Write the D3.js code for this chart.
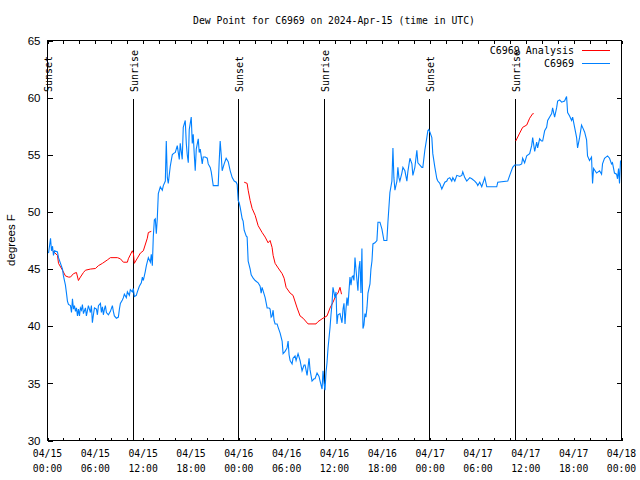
<!DOCTYPE html>
<html><head><meta charset="utf-8">
<script src="https://cdn.jsdelivr.net/npm/d3@7"></script>
<style>body{margin:0;background:#fff}svg{display:block}</style>
</head><body>
<svg id="c" width="640" height="480"></svg>
<script>
// ---------- data ----------
const title = "Dew Point for C6969 on 2024-Apr-15 (time in UTC)";
const yLabel = "degrees F";
const yTicks = [30, 35, 40, 45, 50, 55, 60, 65];
const xLabelHours = [0, 6, 12, 18, 24, 30, 36, 42, 48, 54, 60, 66, 72];
const xLabelDates = ["04/15","04/15","04/15","04/15","04/16","04/16","04/16","04/16","04/17","04/17","04/17","04/17","04/18"];
const xLabelTimes = ["00:00","06:00","12:00","18:00","00:00","06:00","12:00","18:00","00:00","06:00","12:00","18:00","00:00"];
const xMinorHours = d3.range(0, 73, 2);
const sunHours = [0, 10.77, 23.92, 34.69, 47.96, 58.73];
const sunLabels = ["Sunset","Sunrise","Sunset","Sunrise","Sunset","Sunrise"];
const seriesNames = ["C6969 Analysis", "C6969"];

// observed (C6969), hours after 04/15 00:00 UTC
const obsHours = [0.13,0.25,0.38,0.50,0.63,0.75,0.88,1.25,1.38,1.63,1.88,2.00,2.25,2.38,2.50,2.63,2.88,3.01,3.13,3.26,3.38,3.51,3.63,3.76,3.88,4.01,4.13,4.26,4.38,4.51,4.76,4.88,5.13,5.26,5.38,5.51,5.63,5.76,5.89,6.14,6.26,6.39,6.64,6.76,6.89,7.01,7.14,7.26,7.39,7.64,7.89,8.14,8.26,8.39,8.64,8.89,9.02,9.14,9.39,9.52,9.64,9.89,10.02,10.27,10.39,10.64,10.77,10.89,11.14,11.27,11.52,11.77,11.90,12.02,12.27,12.40,12.65,12.90,13.02,13.15,13.27,13.40,13.52,13.65,13.77,13.90,14.15,14.40,14.53,14.78,14.90,15.03,15.15,15.40,15.65,15.78,16.03,16.15,16.28,16.53,16.65,16.90,17.03,17.28,17.41,17.53,17.66,17.78,18.03,18.16,18.28,18.41,18.53,18.66,18.91,19.03,19.16,19.41,19.53,19.78,20.04,20.16,20.41,20.54,20.79,21.16,21.41,21.54,21.66,21.79,21.91,22.16,22.41,22.67,22.92,23.17,23.42,23.67,23.79,23.92,24.04,24.17,24.42,24.54,24.67,24.92,25.04,25.17,25.42,25.55,25.80,26.05,26.42,26.67,26.80,26.92,27.17,27.30,27.55,27.80,27.92,28.05,28.17,28.30,28.42,28.55,28.80,28.93,29.18,29.43,29.55,29.80,30.05,30.18,30.30,30.43,30.68,30.80,31.05,31.18,31.43,31.68,31.93,32.18,32.31,32.56,32.81,32.93,33.18,33.43,33.56,33.81,34.06,34.19,34.44,34.56,34.69,34.81,34.94,35.06,35.19,35.44,35.56,35.69,35.81,36.06,36.19,36.31,36.44,36.69,36.94,37.07,37.19,37.32,37.44,37.57,37.69,37.94,38.07,38.19,38.32,38.44,38.57,38.69,38.94,39.07,39.19,39.32,39.44,39.57,39.69,39.82,39.94,40.07,40.20,40.45,40.57,40.70,40.82,41.07,41.32,41.45,41.70,41.95,42.20,42.32,42.57,42.70,42.95,43.20,43.33,43.45,43.58,43.83,43.95,44.08,44.20,44.45,44.58,44.83,45.08,45.20,45.46,45.71,45.83,46.08,46.33,46.46,46.71,46.96,47.08,47.33,47.58,47.71,47.83,47.96,48.21,48.33,48.59,48.84,48.96,49.21,49.46,49.84,50.09,50.21,50.46,50.71,50.84,51.09,51.34,51.72,51.97,52.09,52.34,52.59,52.97,53.22,53.59,53.84,53.97,54.22,54.47,54.85,55.10,56.35,56.48,57.73,57.98,58.35,58.60,59.23,59.48,59.60,59.85,60.11,60.48,60.73,60.86,61.11,61.36,61.48,61.73,61.98,62.11,62.36,62.61,62.74,62.99,63.24,63.36,63.61,63.86,63.99,64.24,64.49,64.86,65.11,65.24,65.49,65.74,65.87,66.12,66.37,66.49,66.74,66.99,67.12,67.37,67.62,67.74,67.99,68.24,68.37,68.50,68.87,69.25,69.50,69.62,69.87,70.25,70.50,70.75,70.87,71.12,71.38,71.50,71.63,71.75,71.88];
const obsValues = [46.4,47.0,47.7,46.6,47.0,46.2,46.6,46.5,46.0,45.5,45.0,44.4,43.6,42.9,42.2,41.9,41.8,41.2,42.4,41.5,41.8,41.3,41.6,40.9,41.5,40.9,41.6,41.4,41.9,41.1,41.6,40.9,41.8,41.5,41.2,41.8,40.3,41.0,41.6,41.5,41.0,41.8,42.0,41.2,41.7,41.0,41.5,41.8,41.2,41.0,41.3,41.8,41.3,40.9,40.7,40.8,41.5,42.0,42.3,42.5,42.8,42.5,43.0,42.7,43.2,43.0,43.3,42.6,42.7,43.0,43.5,43.8,44.3,44.0,44.8,45.3,46.0,45.6,46.3,45.3,47.8,49.3,49.4,48.1,49.4,51.6,52.2,51.9,52.3,52.7,56.2,53.0,52.5,54.0,55.0,55.1,55.2,55.5,55.8,54.6,56.0,54.6,57.4,58.0,56.0,55.0,54.3,57.2,58.3,56.0,56.8,55.0,53.6,55.5,56.4,55.2,55.5,54.2,54.8,54.8,54.7,54.2,53.9,53.5,52.3,52.3,52.3,54.5,56.2,55.0,53.6,54.2,54.7,54.4,53.6,53.0,52.7,52.6,52.4,51.0,50.8,50.4,49.4,49.2,48.4,47.9,47.8,45.7,45.0,44.5,44.2,44.0,43.8,43.5,42.9,43.4,42.8,42.5,41.6,41.6,41.5,40.8,40.9,41.4,40.5,40.2,40.2,39.9,39.4,38.7,37.6,37.8,38.1,38.7,37.5,37.0,36.7,37.2,37.4,37.0,37.6,37.0,36.1,36.6,36.6,35.7,37.2,36.2,35.2,35.4,35.4,35.9,35.6,35.2,34.5,36.1,35.0,34.4,36.0,36.8,38.1,39.9,41.0,42.0,43.4,42.5,43.0,40.2,41.0,41.1,40.3,41.5,42.0,40.2,41.5,42.5,41.8,44.3,43.6,44.3,44.4,44.0,46.0,45.0,43.1,45.1,45.7,42.9,46.8,39.8,40.1,41.1,40.8,41.6,42.9,43.7,45.0,45.7,47.2,47.3,47.5,49.1,49.1,48.5,47.5,47.5,47.5,49.1,51.7,52.7,55.6,53.0,51.9,52.7,53.9,53.0,52.7,53.4,53.9,53.6,52.7,53.5,54.7,54.2,53.2,53.9,55.4,54.3,54.1,53.9,53.9,55.4,56.5,57.1,57.2,57.0,56.5,55.1,53.9,52.9,52.7,52.5,52.0,52.6,52.7,52.9,53.0,52.7,53.0,52.7,53.2,53.1,53.2,53.5,53.0,52.7,53.0,52.9,52.7,52.5,52.3,52.6,52.2,53.0,52.2,52.2,52.6,52.7,53.2,53.9,54.1,54.1,54.2,54.7,54.3,54.9,55.1,55.8,56.5,55.3,56.1,55.6,56.4,56.2,56.2,57.1,57.4,58.0,58.3,58.6,59.1,58.3,59.1,59.7,59.8,59.6,59.7,60.1,58.7,58.4,58.0,58.3,57.4,56.5,55.6,56.5,57.6,57.4,57.0,56.3,54.9,54.5,54.8,52.5,53.8,53.4,53.6,53.3,54.2,54.7,54.9,54.7,54.2,54.3,53.4,53.3,52.9,53.8,52.5,54.5];

// analysis (C6969 Analysis); null marks a gap
const anaHours = [0.63,1.25,1.38,1.88,2.25,2.63,2.88,3.26,3.63,3.88,4.13,4.51,4.76,5.38,6.01,6.39,6.89,7.51,7.89,8.77,9.14,9.52,10.02,10.14,10.64,10.77,10.89,11.65,12.02,12.52,12.65,13.02,
  18.0,
  24.67,25.04,25.17,25.42,25.67,26.05,26.42,26.92,27.30,27.67,27.92,28.17,28.30,28.55,28.93,29.43,29.68,29.93,30.43,30.80,31.31,31.68,32.06,32.68,33.68,33.93,34.56,35.06,35.44,35.81,36.19,36.44,36.69,36.88,
  48.0,
  58.73,59.23,59.60,60.11,60.48,60.86,60.98];
const anaValues = [46.6,46.2,45.5,44.9,44.4,44.3,44.3,44.6,44.7,44.0,44.3,44.7,44.9,45.0,45.05,45.3,45.5,45.8,46.0,46.0,45.9,45.6,45.6,45.9,46.6,46.4,45.5,46.4,46.6,47.7,48.2,48.3,
  null,
  52.6,52.5,51.9,51.0,50.3,49.7,48.8,48.2,47.8,47.3,47.5,46.9,46.2,45.5,45.1,44.6,44.2,43.4,42.9,42.7,41.6,40.9,40.7,40.2,40.2,40.4,40.7,40.9,41.6,42.1,42.7,42.9,43.4,42.8,
  null,
  56.2,56.9,57.4,57.6,58.2,58.6,58.6];

// ---------- layout / style ----------
const L = 47, R = 621, T = 40, B = 440;
const RED = "#ff0000", BLUE = "#0080ff";
const MONO = "'DejaVu Sans Mono', monospace";
const SANS = "'Liberation Sans', Arial, sans-serif";

const svg = d3.select("#c");
const x = d3.scaleLinear().domain([0, 72]).range([L + 0.5, R + 0.5]);
const y = d3.scaleLinear().domain([30, 65]).range([B + 0.5, T + 0.5]);

// title
svg.append("text").attr("x", (L + R) / 2).attr("y", 23.5)
  .attr("text-anchor", "middle").style("font-family", MONO).style("font-size", "9.75px")
  .text(title);

// y label
svg.append("text").attr("transform", `translate(14.5,${(T + B) / 2}) rotate(-90)`)
  .attr("text-anchor", "middle").style("font-family", SANS).style("font-size", "11.5px")
  .text(yLabel);

// axes
function styleAxis(g) {
  g.select(".domain").remove();
  g.selectAll(".tick line").attr("stroke", "#000").attr("shape-rendering", "crispEdges");
}
svg.append("g").attr("transform", `translate(${L + 0.5},0)`)
  .call(d3.axisLeft(y).tickValues(yTicks).tickSize(-5).tickSizeOuter(0).tickPadding(7).tickFormat(d3.format("d")))
  .call(styleAxis)
  .selectAll("text").style("font-family", SANS).style("font-size", "11.5px").attr("fill", "#000");
svg.append("g").attr("transform", `translate(${R + 0.5},0)`)
  .call(d3.axisRight(y).tickValues(yTicks.slice(1, -1)).tickSize(-5).tickSizeOuter(0).tickFormat(""))
  .call(styleAxis);
svg.append("g").attr("transform", `translate(0,${B + 0.5})`)
  .call(d3.axisBottom(x).tickValues(xMinorHours).tickSize(-3).tickSizeOuter(0).tickFormat(""))
  .call(styleAxis);
svg.append("g").attr("transform", `translate(0,${T + 0.5})`)
  .call(d3.axisTop(x).tickValues(xMinorHours).tickSize(-3).tickSizeOuter(0).tickFormat(""))
  .call(styleAxis);

// x tick labels (two lines)
const xl = svg.append("g").style("font-family", MONO).style("font-size", "9.75px");
xl.selectAll("text.d").data(xLabelHours).join("text").attr("class", "d")
  .attr("x", d => x(d)).attr("y", 457).attr("text-anchor", "middle")
  .text((d, i) => xLabelDates[i]);
xl.selectAll("text.t").data(xLabelHours).join("text").attr("class", "t")
  .attr("x", d => x(d)).attr("y", 472).attr("text-anchor", "middle")
  .text((d, i) => xLabelTimes[i]);

// clip
svg.append("clipPath").attr("id", "pc").append("rect")
  .attr("x", L).attr("y", T).attr("width", R - L + 1).attr("height", B - T + 1);
const plot = svg.append("g").attr("clip-path", "url(#pc)");

// sunrise / sunset lines
plot.selectAll("line.sun").data(sunHours).join("line").attr("class", "sun")
  .attr("x1", d => Math.round(x(d) - 0.5) + 0.5).attr("x2", d => Math.round(x(d) - 0.5) + 0.5)
  .attr("y1", 99).attr("y2", B)
  .attr("stroke", "#000").attr("shape-rendering", "crispEdges");
svg.selectAll("text.sun").data(sunHours).join("text").attr("class", "sun")
  .attr("transform", d => `translate(${x(d) + 1},92) rotate(-90)`)
  .attr("dy", "0.35em").attr("text-anchor", "start")
  .style("font-family", MONO).style("font-size", "10px")
  .text((d, i) => sunLabels[i]);

// series
const obs = obsHours.map((h, i) => [h, obsValues[i]]);
const ana = anaHours.map((h, i) => [h, anaValues[i]]);
const line = d3.line().defined(d => d[1] != null).x(d => x(d[0])).y(d => y(d[1]));
plot.append("path").datum(ana).attr("d", line).attr("fill", "none").attr("stroke", RED).attr("stroke-width", 1);
plot.append("path").datum(obs).attr("d", line).attr("fill", "none").attr("stroke", BLUE).attr("stroke-width", 1.1);

// frame
svg.append("rect").attr("x", L + 0.5).attr("y", T + 0.5).attr("width", R - L).attr("height", B - T)
  .attr("fill", "none").attr("stroke", "#000").attr("shape-rendering", "crispEdges");

// legend
const lg = svg.append("g").style("font-family", MONO).style("font-size", "10px");
[RED, BLUE].forEach((c, i) => {
  const yy = 50 + i * 13;
  lg.append("text").attr("x", 574).attr("y", yy).attr("dy", "0.35em").attr("text-anchor", "end").text(seriesNames[i]);
  lg.append("line").attr("x1", 582).attr("x2", 610).attr("y1", yy + 0.5).attr("y2", yy + 0.5)
    .attr("stroke", c).attr("shape-rendering", "crispEdges");
});
</script>
</body></html>
